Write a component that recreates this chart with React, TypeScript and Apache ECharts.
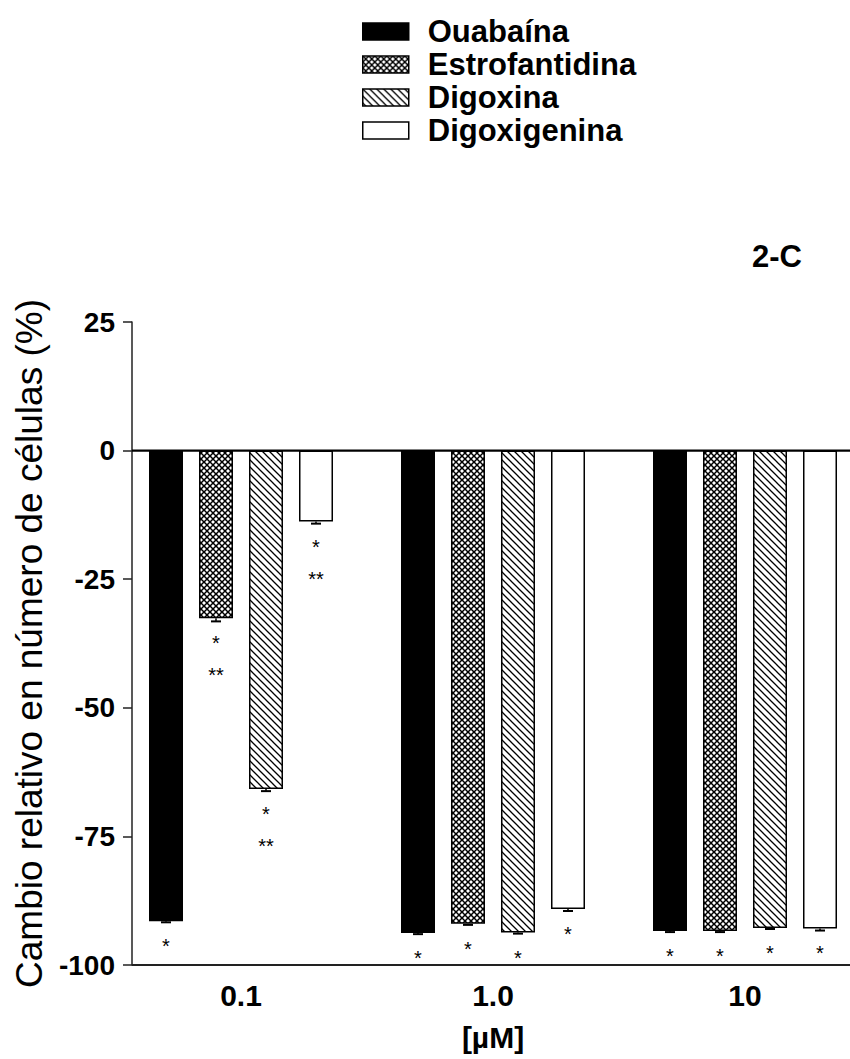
import React, { useEffect, useRef } from 'react';
import * as echarts from 'echarts';

const categories = ['0.1', '1.0', '10'];
const seriesNames = ['Ouabaína', 'Estrofantidina', 'Digoxina', 'Digoxigenina'];

const ouabaina = [-91.5, -93.8, -93.4];
const estrofantidina = [-32.6, -92.0, -93.4];
const digoxina = [-65.8, -93.7, -92.8];
const digoxigenina = [-13.8, -89.1, -92.9];

const ouabainaErr = [0.2, 0.2, 0.2];
const estrofantidinaErr = [0.6, 0.2, 0.2];
const digoxinaErr = [0.4, 0.2, 0.2];
const digoxigeninaErr = [0.4, 0.4, 0.4];

const ouabainaStars = ['*', '*', '*'];
const estrofantidinaStars = ['*\n**', '*', '*'];
const digoxinaStars = ['*\n**', '*', '*'];
const digoxigeninaStars = ['*\n**', '*', '*'];

const yMin = -100;
const yMax = 25;
const yStep = 25;

const xAxisName = '[µM]';
const yAxisName = 'Cambio relativo en número de células (%)';
const panelLabel = '2-C';

const FONT = '"Liberation Sans", Arial, sans-serif';
const BAR_W = 34;
const BAR_GAP = 16;
const GRID_LEFT = 115;
const AXIS_SHIFT = 17;

function makeCross(): HTMLCanvasElement {
  const s = 6;
  const c = document.createElement('canvas');
  c.width = s;
  c.height = s;
  const g = c.getContext('2d')!;
  g.fillStyle = '#fff';
  g.fillRect(0, 0, s, s);
  g.strokeStyle = '#000';
  g.lineWidth = 1.5;
  g.beginPath();
  g.moveTo(0, 0);
  g.lineTo(s, s);
  g.moveTo(s, 0);
  g.lineTo(0, s);
  g.stroke();
  return c;
}

function makeDiag(): HTMLCanvasElement {
  const s = 7;
  const c = document.createElement('canvas');
  c.width = s;
  c.height = s;
  const g = c.getContext('2d')!;
  g.fillStyle = '#fff';
  g.fillRect(0, 0, s, s);
  g.strokeStyle = '#000';
  g.lineWidth = 1.3;
  g.beginPath();
  g.moveTo(-1, -1);
  g.lineTo(s + 1, s + 1);
  g.moveTo(-2, s - 2);
  g.lineTo(2, s + 2);
  g.moveTo(s - 2, -2);
  g.lineTo(s + 2, 2);
  g.stroke();
  return c;
}

export default function App() {
  const ref = useRef<HTMLDivElement>(null);

  useEffect(() => {
    if (!ref.current) return;
    const chart = echarts.init(ref.current, null, { renderer: 'svg' });

    const fills: any[] = [
      '#000',
      { image: makeCross(), repeat: 'repeat' },
      { image: makeDiag(), repeat: 'repeat' },
      '#fff',
    ];
    const values = [ouabaina, estrofantidina, digoxina, digoxigenina];
    const errs = [ouabainaErr, estrofantidinaErr, digoxinaErr, digoxigeninaErr];
    const stars = [ouabainaStars, estrofantidinaStars, digoxinaStars, digoxigeninaStars];

    const barSeries = seriesNames.map((name, si) => ({
      name,
      type: 'bar',
      barWidth: BAR_W,
      barGap: `${(BAR_GAP / BAR_W) * 100}%`,
      data: values[si],
      itemStyle: { color: fills[si], borderColor: '#000', borderWidth: 1.5 },
      label: {
        show: true,
        position: 'bottom',
        distance: 9,
        formatter: (p: any) => stars[si][p.dataIndex],
        fontFamily: FONT,
        fontSize: 20,
        lineHeight: 32,
        color: '#000',
      },
    }));

    const errData: number[][] = [];
    values.forEach((arr, si) => {
      arr.forEach((v, ci) => errData.push([ci, v, errs[si][ci], si]));
    });

    const errSeries = {
      type: 'custom',
      silent: true,
      z: 5,
      data: errData,
      renderItem: (_params: any, api: any) => {
        const ci = api.value(0);
        const v = api.value(1);
        const e = api.value(2);
        const si = api.value(3);
        const top = api.coord([ci, v]);
        const low = api.coord([ci, v - e]);
        const x = top[0] + (si - 1.5) * (BAR_W + BAR_GAP);
        return {
          type: 'group',
          children: [
            { type: 'line', shape: { x1: x, y1: top[1], x2: x, y2: low[1] }, style: { stroke: '#000', lineWidth: 1.5 } },
            { type: 'line', shape: { x1: x - 5, y1: low[1], x2: x + 5, y2: low[1] }, style: { stroke: '#000', lineWidth: 2 } },
          ],
        };
      },
    };

    chart.setOption({
      animation: false,
      backgroundColor: '#fff',
      title: {
        text: panelLabel,
        left: 752,
        top: 241,
        textStyle: { fontFamily: FONT, fontWeight: 'bold', fontSize: 31, color: '#000' },
        padding: 0,
      },
      legend: {
        orient: 'vertical',
        left: 362,
        top: 16,
        padding: 0,
        itemWidth: 46,
        itemHeight: 17,
        itemGap: 2,
        icon: 'rect',
        data: seriesNames.map((n, i) => ({
          name: n,
          itemStyle: { color: fills[i], borderColor: '#000', borderWidth: 1.5 },
        })),
        textStyle: {
          fontFamily: FONT,
          fontWeight: 'bold',
          fontSize: 31,
          color: '#000',
          padding: [0, 0, 0, 14],
        },
      },
      grid: { left: GRID_LEFT, width: 756, top: 322, bottom: 94, outerBoundsMode: 'none' },
      xAxis: {
        type: 'category',
        data: categories,
        position: 'bottom',
        axisLine: { show: false },
        axisTick: { show: false },
        axisLabel: {
          margin: 15,
          fontFamily: FONT,
          fontWeight: 'bold',
          fontSize: 30,
          color: '#000',
        },
        name: xAxisName,
        nameLocation: 'middle',
        nameGap: 57,
        nameTextStyle: { fontFamily: FONT, fontWeight: 'bold', fontSize: 30, color: '#000' },
      },
      yAxis: {
        type: 'value',
        min: yMin,
        max: yMax,
        interval: yStep,
        offset: -AXIS_SHIFT,
        splitLine: { show: false },
        axisLine: { show: true, lineStyle: { color: '#222', width: 1.5 } },
        axisTick: { show: true, length: 9, lineStyle: { color: '#222', width: 1.5 } },
        axisLabel: {
          margin: 17,
          fontFamily: FONT,
          fontWeight: 'bold',
          fontSize: 28,
          color: '#000',
        },
        name: yAxisName,
        nameLocation: 'middle',
        nameRotate: 90,
        nameGap: 82,
        nameTextStyle: { fontFamily: FONT, fontSize: 37, color: '#000' },
      },
      series: [...barSeries, errSeries],
    });

    const y0 = chart.convertToPixel({ yAxisIndex: 0 }, 0) as number;
    const yB = chart.convertToPixel({ yAxisIndex: 0 }, yMin) as number;
    const ax = GRID_LEFT + AXIS_SHIFT;
    chart.setOption({
      graphic: [
        { type: 'line', z: 10, shape: { x1: ax, y1: y0, x2: 850, y2: y0 }, style: { stroke: '#000', lineWidth: 2.2 } },
        { type: 'line', z: 10, shape: { x1: ax, y1: yB, x2: 850, y2: yB }, style: { stroke: '#222', lineWidth: 1.8 } },
      ],
    });

    return () => chart.dispose();
  }, []);

  return (
    <div
      ref={ref}
      style={{ position: 'fixed', left: 0, top: 0, width: 850, height: 1059, background: '#fff' }}
    />
  );
}
